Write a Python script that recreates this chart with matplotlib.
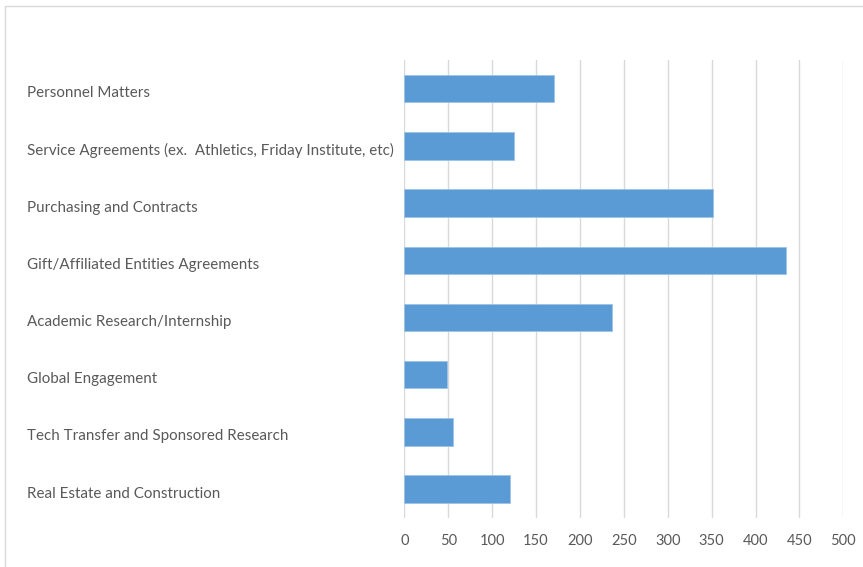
import matplotlib
matplotlib.use("Agg")
import matplotlib.pyplot as plt
from matplotlib.patches import Rectangle
from matplotlib.transforms import ScaledTranslation

categories = [
    "Personnel Matters",
    "Service Agreements (ex.  Athletics, Friday Institute, etc)",
    "Purchasing and Contracts",
    "Gift/Affiliated Entities Agreements",
    "Academic Research/Internship",
    "Global Engagement",
    "Tech Transfer and Sponsored Research",
    "Real Estate and Construction",
]
values = [171, 125, 352, 435, 237, 49, 55, 120]
xticks = [0, 50, 100, 150, 200, 250, 300, 350, 400, 450, 500]

W, H = 863, 567
fig = plt.figure(figsize=(W / 100, H / 100), dpi=100)
plt.rcParams['font.family'] = ['Lato', 'DejaVu Sans']

# outer chart frame
fig.patches.append(Rectangle((5 / W, -0.1), 1.2, 1 - 6 / H + 0.1, transform=fig.transFigure,
                             fill=False, edgecolor='#D9D9D9', linewidth=1.0))

left, right = 404.3 / W, 843.3 / W
top, bottom = 1 - 60 / H, 1 - 517.7 / H
ax = fig.add_axes([left, bottom, right - left, top - bottom])

y = list(range(len(categories)))
ax.barh(y, values, height=0.48, color='#5B9BD5', edgecolor='#9DC3E6', linewidth=0.6, zorder=3)
ax.set_ylim(len(categories) - 0.5, -0.5)
ax.set_xlim(0, 500)
ax.set_xticks(xticks)
ax.set_xticklabels([str(t) for t in xticks])
ax.set_yticks(y)
ax.set_yticklabels(categories)

for s in ax.spines.values():
    s.set_visible(False)
ax.xaxis.grid(True, color='#D9D9D9', linewidth=1.0, zorder=0)
ax.tick_params(axis='both', length=0, labelcolor='#595959')
ax.tick_params(axis='x', pad=12, labelsize=10.5)
ax.tick_params(axis='y', pad=(404.3 - 27) * 0.72, labelsize=10.9)
off = ScaledTranslation(0, -3 / 100, fig.dpi_scale_trans)
for lbl in ax.get_yticklabels():
    lbl.set_ha('left')
    lbl.set_transform(lbl.get_transform() + off)

fig.savefig("out.png", dpi=100)
